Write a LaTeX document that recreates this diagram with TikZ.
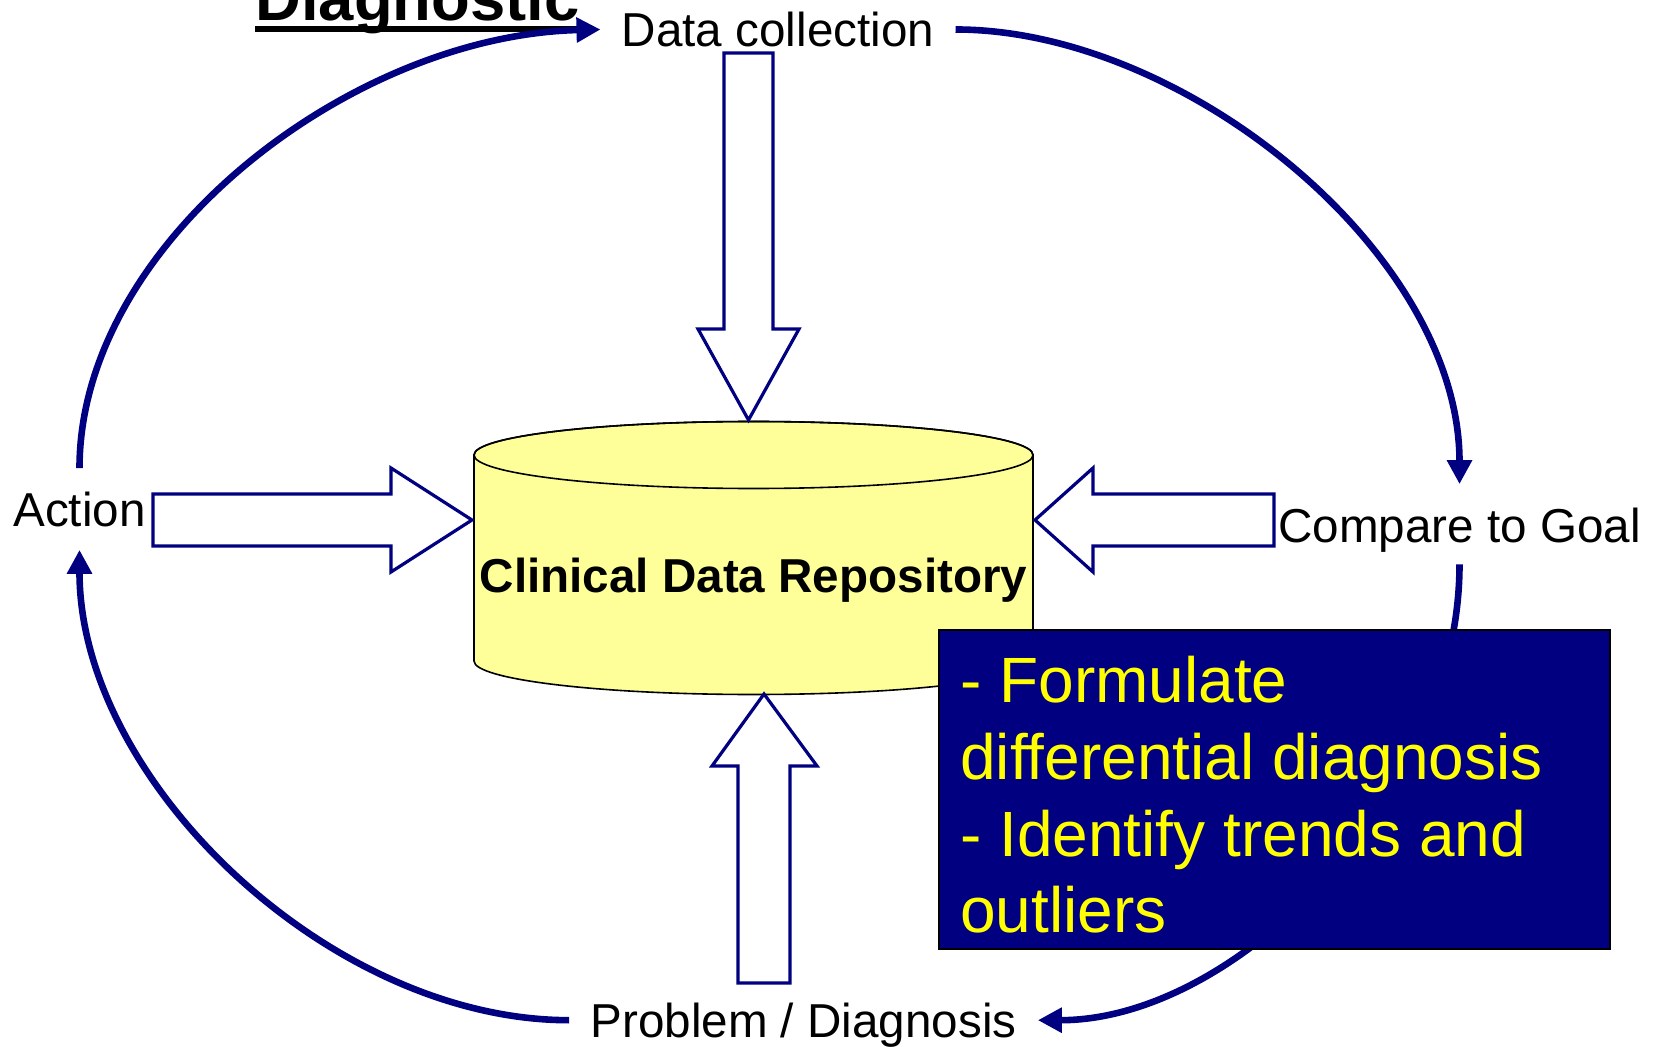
\documentclass[tikz,border=0pt]{standalone}
\usepackage{fontspec}
\setmainfont{Liberation Sans}
\usetikzlibrary{arrows.meta}
\definecolor{navy}{RGB}{0,0,128}
\definecolor{cylyellow}{RGB}{255,255,153}
\definecolor{txtyellow}{RGB}{255,255,0}
\begin{document}
\begin{tikzpicture}[x=0.5pt,y=-0.5pt,
  lbl/.style={font=\fontsize{23.8}{28}\selectfont, inner sep=0pt},
  loopline/.style={draw=navy, line width=3.3pt, -{Triangle[length=12pt,width=12pt]}},
  blockarrow/.style={draw=navy, fill=white, line width=1.6pt, line join=miter},
  cylline/.style={draw=black, line width=0.8pt},
]
\useasboundingbox (0,0) rectangle (1658,1047);

% title
\node[font=\fontsize{31.7}{38}\selectfont\bfseries, anchor=base west, inner sep=0pt] (title) at (255,21) {Diagnostic};
\draw[line width=2.6pt] ([yshift=-4pt]title.base west) -- ([yshift=-4pt]title.base east);

% labels
\node[lbl, anchor=base, inner xsep=10.5pt] (dc) at (778,46.5) {Data collection};
\node[lbl, anchor=base, inner ysep=11.5pt] (act) at (79.5,526) {Action};
\node[lbl, anchor=base, inner ysep=6pt] (cg) at (1459.5,542) {Compare to Goal};
\node[lbl, anchor=base, inner xsep=10.5pt] (pd) at (803.5,1037.5) {Problem / Diagnosis};

% cycle arcs
\draw[loopline] (act.north) .. controls +(0,-225) and +(-250,6) .. (dc.west);
\draw[loopline] (dc.east) .. controls +(230,0) and +(0,-230) .. ([yshift=5.5pt]cg.north);
\draw[loopline] (cg.south) .. controls +(0,230) and +(200,0) .. ([yshift=2.5pt]pd.east);
\draw[loopline] ([yshift=2.5pt]pd.west) .. controls +(-240,0) and +(0,230) .. (act.south);

% cylinder
\filldraw[fill=cylyellow, cylline] (474,455) -- (474,661)
  arc[start angle=180, end angle=0, x radius=279.5, y radius=33.5]
  -- (1033,455)
  arc[start angle=0, end angle=-180, x radius=279.5, y radius=33.5] -- cycle;
\draw[cylline] (753.5,455) ellipse[x radius=279.5, y radius=33.5];
\node[font=\fontsize{23.8}{28}\selectfont\bfseries, anchor=base, inner sep=0pt] (cdr) at (753.5,592) {Clinical Data Repository};

% block arrows
\draw[blockarrow] (724,53) -- (773,53) -- (773,329) -- (799,329) -- (748.5,420) -- (698,329) -- (724,329) -- cycle;
\draw[blockarrow] (153,494) -- (391,494) -- (391,468) -- (472,520) -- (391,572) -- (391,546) -- (153,546) -- cycle;
\draw[blockarrow] (1274,494) -- (1093,494) -- (1093,468) -- (1035,520) -- (1093,572) -- (1093,546) -- (1274,546) -- cycle;
\draw[blockarrow] (738,983) -- (790,983) -- (790,766) -- (817,766) -- (764,694) -- (712,766) -- (738,766) -- cycle;

% info box
\node[draw=black, fill=navy, line width=0.8pt, anchor=north west, minimum width=335.5pt, minimum height=159.5pt, inner sep=0pt] (info) at (938,629) {};
\node[anchor=north west, inner sep=0pt, align=left, text=txtyellow, font=\fontsize{32}{38.35}\selectfont] (infotxt) at (960,656) {- Formulate\\differential diagnosis\\- Identify trends and\\outliers};
\end{tikzpicture}
\end{document}
